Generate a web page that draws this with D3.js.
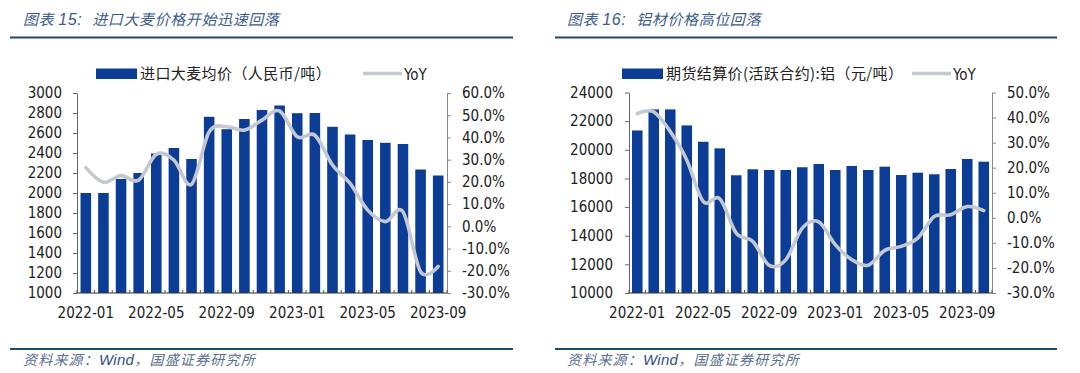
<!DOCTYPE html>
<html>
<head>
<meta charset="utf-8">
<script src="https://cdn.jsdelivr.net/npm/d3@7"></script>
<style>
  body { margin: 0; background: #fff; }
  svg { display: block; }
  .tick text { font-family: "DejaVu Sans Condensed", "DejaVu Sans", sans-serif; font-stretch: condensed; font-size: 15px; fill: #222; }
</style>
</head>
<body>
<svg width="1080" height="373"></svg>
<script>
// wheat: 2022-01 .. 2023-09
const wheatMonths = ["2022-01","2022-02","2022-03","2022-04","2022-05","2022-06","2022-07","2022-08","2022-09","2022-10","2022-11","2022-12",
                     "2023-01","2023-02","2023-03","2023-04","2023-05","2023-06","2023-07","2023-08","2023-09"]
const wheatPrice = [2000, 2000, 2140, 2200, 2395, 2450, 2340, 2762, 2638, 2740, 2830, 2875, 2798, 2800, 2662, 2585, 2530, 2502, 2490, 2235, 2175]
const wheatYoY = [26.4, 19.8, 22.8, 20.8, 32.4, 29.8, 18.9, 42.5, 44.8, 43.3, 47.8, 51.9, 40.3, 41.0, 27.6, 19.3, 7.3, 2.1, 6.6, -20.4, -18.0]
const wheatPriceTicks = [1000, 1200, 1400, 1600, 1800, 2000, 2200, 2400, 2600, 2800, 3000]
const wheatYoYTicks = [-30, -20, -10, 0, 10, 20, 30, 40, 50, 60]

// aluminium: 2022-01 .. 2023-10
const aluMonths = ["2022-01","2022-02","2022-03","2022-04","2022-05","2022-06","2022-07","2022-08","2022-09","2022-10","2022-11","2022-12",
                   "2023-01","2023-02","2023-03","2023-04","2023-05","2023-06","2023-07","2023-08","2023-09","2023-10"]
const aluPrice = [21350, 22820, 22820, 21700, 20560, 20100, 18220, 18640, 18590, 18590, 18780, 19010,
                  18590, 18870, 18590, 18820, 18240, 18400, 18290, 18660, 19360, 19170]
const aluYoY = [41.6, 42.3, 34.4, 23.1, 6.5, 7.6, -6.1, -9.4, -19.0, -16.8, -4.1, -1.6,
                -10.7, -16.7, -18.9, -13.0, -11.4, -8.1, 0.5, 1.2, 4.5, 2.9]
const aluPriceTicks = [10000, 12000, 14000, 16000, 18000, 20000, 22000, 24000]
const aluYoYTicks = [-30, -20, -10, 0, 10, 20, 30, 40, 50]

const barClr = "#0c3d96"
const lineClr = "#c4c8d0"
const ruleClr = "#1f4a66"
const titleClr = "#3d5c8e"

const svg = d3.select('svg')
svg.append('rect').attr('width', 1080).attr('height', 373).attr('fill', '#fff')

function drawPanel(p) {
    const g = svg.append('g')

    // title + rules
    const t = g.append('text').attr('x', p.left).attr('y', 25)
        .attr('font-family', '"Noto Sans CJK SC", sans-serif').attr('font-style', 'italic')
        .attr('font-size', 15).attr('fill', titleClr).attr('letter-spacing', 0.6)
    t.append('tspan').text(p.title[0])
    t.append('tspan').attr('dx', 4).attr('font-family', '"Liberation Sans", sans-serif').attr('font-size', 16).text(p.title[1])
    t.append('tspan').attr('dx', 10).text(p.title[2])
    g.append('line').attr('x1', p.ruleX[0]).attr('x2', p.ruleX[1]).attr('y1', 37.5).attr('y2', 37.5)
        .attr('stroke', ruleClr).attr('stroke-width', 2.2)
    g.append('line').attr('x1', p.ruleX[0]).attr('x2', p.ruleX[1]).attr('y1', 349).attr('y2', 349)
        .attr('stroke', ruleClr).attr('stroke-width', 2.2)
    const src = g.append('text').attr('x', p.left).attr('y', 365)
        .attr('font-family', '"Noto Sans CJK SC", sans-serif').attr('font-style', 'italic')
        .attr('font-size', 14).attr('fill', '#5a6f92').attr('letter-spacing', 1.2)
    src.append('tspan').text('资料来源：')
    src.append('tspan').attr('font-family', '"Liberation Sans", sans-serif').attr('font-size', 15).attr('letter-spacing', 0.3)
        .attr('fill', '#2f4f86').text('Wind')
    src.append('tspan').text('，国盛证券研究所')

    // legend
    g.append('rect').attr('x', p.leg[0]).attr('y', 68.5).attr('width', 41).attr('height', 10.5).attr('fill', barClr)
    g.append('text').attr('x', p.leg[0] + 44).attr('y', 79)
        .attr('font-family', '"Noto Sans CJK SC", sans-serif').attr('font-size', 15).attr('fill', '#222')
        .attr('letter-spacing', 0.4)
        .text(p.legendText)
    g.append('line').attr('x1', p.leg[1]).attr('x2', p.leg[1] + 39).attr('y1', 73.5).attr('y2', 73.5)
        .attr('stroke', lineClr).attr('stroke-width', 3.5)
    g.append('text').attr('x', p.leg[1] + 41).attr('y', 79.5)
        .attr('font-family', '"DejaVu Sans Condensed", "DejaVu Sans", sans-serif').attr('font-stretch', 'condensed')
        .attr('font-size', 15).attr('fill', '#222').text('YoY')

    const x = d3.scaleBand().domain(p.months).range([p.x0, p.x1]).paddingInner(p.pad).paddingOuter(p.pad / 2)
    const y = d3.scaleLinear().domain(d3.extent(p.priceTicks)).range([293, p.yTop])
    const y2 = d3.scaleLinear().domain(d3.extent(p.yoyTicks)).range([293, p.yTop])

    // bars
    g.selectAll('.bar').data(p.price).join('rect')
        .attr('class', 'bar')
        .attr('x', (d, i) => x(p.months[i]))
        .attr('y', d => y(d))
        .attr('width', x.bandwidth())
        .attr('height', d => 293 - y(d))
        .attr('fill', barClr)

    // axes
    const ax = g.append('g').attr('transform', `translate(${p.x0},0)`)
        .call(d3.axisLeft(y).tickValues(p.priceTicks).tickSize(4).tickPadding(p.padL).tickSizeOuter(0).tickFormat(d3.format('d')))
    const ax2 = g.append('g').attr('transform', `translate(${p.x1},0)`)
        .call(d3.axisRight(y2).tickValues(p.yoyTicks).tickSize(4).tickPadding(p.padR).tickSizeOuter(0).tickFormat(d => d.toFixed(1) + '%'))
    ax.selectAll('path, line').attr('stroke', '#666')
    ax2.selectAll('path, line').attr('stroke', '#888')

    const xb = g.append('g').attr('transform', 'translate(0,293)')
        .call(d3.axisBottom(x).tickValues(p.months.filter((d, i) => i % 4 === 0)).tickSize(0).tickPadding(14))
    xb.select('.domain').remove()
    g.append('line').attr('x1', p.x0).attr('x2', p.x1).attr('y1', 293).attr('y2', 293)
        .attr('stroke', '#333').attr('stroke-width', 1.2)
    g.selectAll('.sep').data(d3.range(p.months.length + 1)).join('line')
        .attr('class', 'sep')
        .attr('x1', i => p.x0 + i * x.step()).attr('x2', i => p.x0 + i * x.step())
        .attr('y1', 293).attr('y2', 290)
        .attr('stroke', '#555')

    // yoy line
    const line = d3.line()
        .x((d, i) => x(p.months[i]) + x.bandwidth() / 2)
        .y(d => y2(d))
        .curve(d3.curveCardinal.tension(0))
    g.append('path').datum(p.yoy).attr('d', line)
        .attr('fill', 'none').attr('stroke', lineClr).attr('stroke-width', 3.6)
        .attr('stroke-linecap', 'round').attr('stroke-linejoin', 'round')
}

drawPanel({
    title: ['图表', '15:', '进口大麦价格开始迅速回落'], left: 23, ruleX: [10, 513],
    legendText: '进口大麦均价（人民币/吨）', leg: [96, 363],
    months: wheatMonths, price: wheatPrice, yoy: wheatYoY,
    priceTicks: wheatPriceTicks, yoyTicks: wheatYoYTicks,
    x0: 77, x1: 447, yTop: 93, pad: 0.4, padL: 11, padR: 11
})

drawPanel({
    title: ['图表', '16:', '铝材价格高位回落'], left: 567, ruleX: [555, 1057],
    legendText: '期货结算价(活跃合约):铝（元/吨）', leg: [622, 912],
    months: aluMonths, price: aluPrice, yoy: aluYoY,
    priceTicks: aluPriceTicks, yoyTicks: aluYoYTicks,
    x0: 629, x1: 992, yTop: 92.5, pad: 0.36, padL: 12, padR: 11
})
</script>
</body>
</html>
